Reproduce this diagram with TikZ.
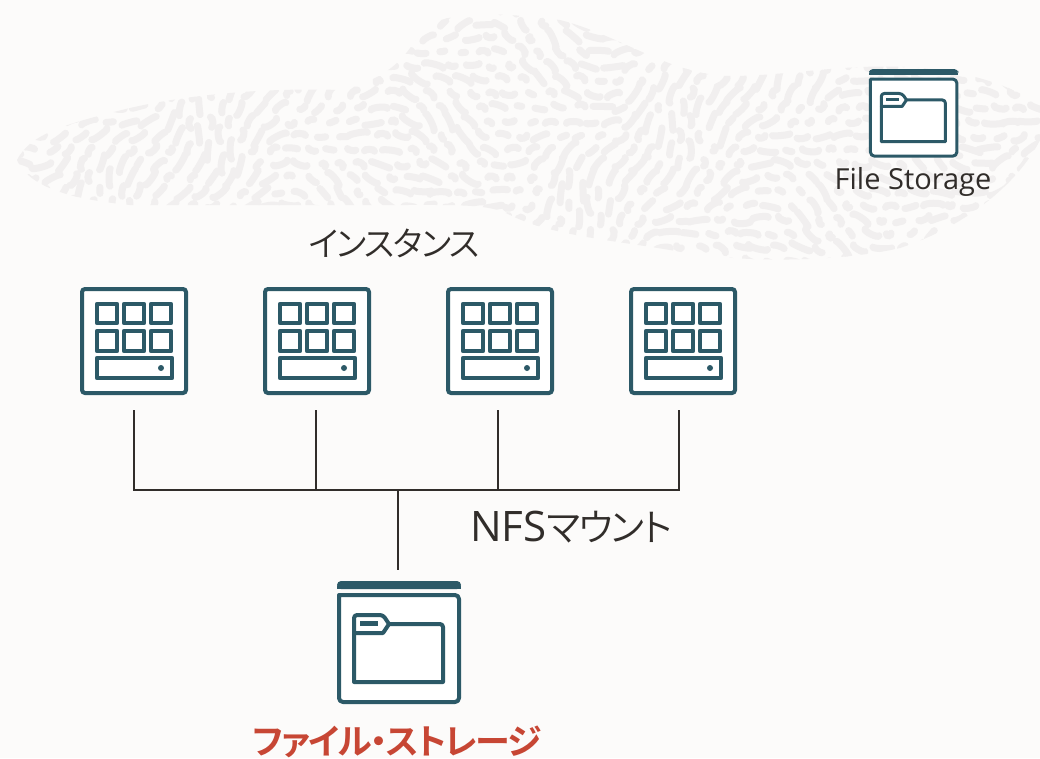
\documentclass[tikz,border=0pt]{standalone}
\usepackage{fontspec}
\setmainfont{Open Sans}
\newfontfamily\jpfont[RawFeature=+palt,LetterSpace=-5]{Noto Sans CJK JP DemiLight}
\newfontfamily\jpbold[RawFeature=+palt,LetterSpace=-5]{Noto Sans CJK JP Bold}
\definecolor{bgc}{HTML}{FCFBFA}
\definecolor{teal}{HTML}{2C5967}
\definecolor{ink}{HTML}{312D2A}
\definecolor{redc}{HTML}{C74634}
\definecolor{tex}{HTML}{F1EFEF}
\newcommand\FileIcon{%
    \fill[teal,rounded corners=4pt] (0,8) -- (0,0) -- (124,0) -- (124,8) -- cycle;
    \fill[teal] (0,5) rectangle (124,8);
    \draw[iconline,fill=white] (2,14) [rounded corners=4pt] -- (2,121) -- (122,121) -- (122,14) [sharp corners] -- cycle;
    \draw[iconline,fill=white] (17,52) -- (17,101) -- (106,101) [rounded corners=3pt] -- (106,43) [sharp corners] -- (52,43) -- (17,52);
    \draw[iconline,fill=white] (17,52) [rounded corners=3pt] -- (17,34) -- (46,34) [sharp corners] -- (52,43) -- (46,52) -- cycle;
    \fill[teal] (23,40) rectangle (41,45);
}
\newcommand\InstInner[1]{%
  \begin{scope}[shift={(#1)},iconline,line width=4.2pt]
    \foreach \cx in {-27,0,27}{
      \draw (\cx-10,-37) rectangle (\cx+10,-18);
      \draw (\cx-10,-10) rectangle (\cx+10,10);
    }
    \draw (-37,17) rectangle (38,37);
    \fill[teal] (27,27) circle (3pt);
  \end{scope}
}
\tikzset{
  x=1pt,y=-1pt,
  iconline/.style={draw=teal,line join=round},
  instbox/.style={draw=teal,fill=white,line width=4pt,rounded corners=3pt,minimum size=104pt,inner sep=0pt,shape=rectangle},
  wire/.style={draw=ink,line width=2.5pt},
  lbl/.style={text=ink,inner sep=0pt},
}
\begin{document}
\begin{tikzpicture}
\useasboundingbox (0,0) rectangle (1040,758);
\fill[bgc] (0,0) rectangle (1040,758);
% textured background band
\begin{scope}
  \clip (17,160) .. controls (30,135) and (60,125) .. (130,108)
    .. controls (200,92) and (280,88) .. (340,90)
    .. controls (385,80) and (405,60) .. (420,32)
    .. controls (440,10) and (500,12) .. (560,20)
    .. controls (620,35) and (670,75) .. (730,76)
    .. controls (790,76) and (850,62) .. (920,68)
    .. controls (970,72) and (1010,85) .. (1040,105)
    -- (1040,140)
    .. controls (1020,180) and (970,225) .. (900,248)
    .. controls (840,262) and (740,264) .. (670,250)
    .. controls (610,240) and (550,235) .. (510,215)
    .. controls (490,204) and (460,205) .. (400,205)
    -- (130,205) .. controls (80,200) and (30,190) .. cycle;
  \pgfmathsetseed{2718}
  \begin{scope}[line width=7pt,line cap=round,draw=tex]
  \foreach \gx in {0,...,52}{
    \foreach \gy in {0,...,18}{
      \pgfmathsetmacro\px{\gx*20+8+mod(\gy,2)*10+rnd*6}
      \pgfmathsetmacro\py{\gy*14+8+rnd*4}
      \pgfmathsetmacro\ang{-25+55*sin(\px*0.75+\py*0.9)+25*sin(\px*2.3-\py*1.7)+rnd*16}
      \pgfmathsetmacro\len{2+rnd*8}
      \pgfmathsetmacro\bend{(rnd-0.5)*6}
      \draw (\px,\py) ++(\ang:-\len) .. controls +(\ang+90:\bend) and +(\ang+90:\bend) .. ++(\ang:2*\len);
    }
  }
  \end{scope}
\end{scope}
% instances
\node[instbox] (inst1) at (134,341) {};
\node[instbox] (inst2) at (317,341) {};
\node[instbox] (inst3) at (500,341) {};
\node[instbox] (inst4) at (683,341) {};
\InstInner{inst1.center}
\InstInner{inst2.center}
\InstInner{inst3.center}
\InstInner{inst4.center}
% file icons
\begin{scope}[shift={(337,581)},line width=4pt]
  \FileIcon
\end{scope}
\begin{scope}[shift={(869,69)},scale=.72,line width=3pt]
  \FileIcon
\end{scope}
% connectors
\coordinate (s1) at (134,410);
\coordinate (s2) at (316,410);
\coordinate (s3) at (498,410);
\coordinate (s4) at (679,410);
\coordinate (hub) at (398,490);
\coordinate (fs) at (398,570);
\draw[wire,line join=miter] (s1) |- (hub) -| (s4);
\draw[wire] (s2) -- (s2|-hub);
\draw[wire] (s3) -- (s3|-hub);
\draw[wire] (hub) -- (fs);
% labels
\node[lbl,font=\jpfont\fontsize{34}{38}\selectfont] (t1) at (394,243) {インスタンス};
\node[lbl,font=\fontsize{42}{44}\selectfont] (t2) at (571,527) {NFS{\jpfont\fontsize{38}{40}\selectfont マウント}};
\node[lbl,font=\fontsize{29}{32}\selectfont] (t3) at (913,182) {File Storage};
\node[lbl,text=redc,font=\jpbold\fontsize{35}{38}\selectfont] (t4) at (397,742) {ファイル・ストレージ};
\end{tikzpicture}
\end{document}
